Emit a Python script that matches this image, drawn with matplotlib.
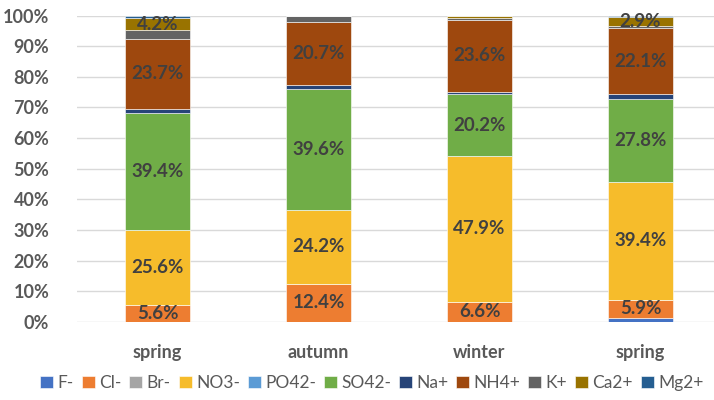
import matplotlib
matplotlib.use("Agg")
import matplotlib.pyplot as plt
import numpy as np

categories = ["spring", "autumn", "winter", "spring"]
series_names = ["F-", "Cl-", "Br-", "NO3-", "PO42-", "SO42-", "Na+", "NH4+", "K+", "Ca2+", "Mg2+"]
F = [0.0, 0.0, 0.0, 1.4]
Cl = [5.6, 12.4, 6.6, 5.9]
Br = [0.0, 0.0, 0.0, 0.0]
NO3 = [25.6, 24.2, 47.9, 39.4]
PO4 = [0.0, 0.0, 0.0, 0.0]
SO4 = [39.4, 39.6, 20.2, 27.8]
Na = [1.6, 1.3, 0.8, 1.6]
NH4 = [23.7, 20.7, 23.6, 22.1]
K = [2.8, 1.9, 0.8, 0.8]
Ca = [4.2, 0.0, 0.6, 2.9]
Mg = [0.8, 0.0, 0.0, 0.4]
colors = ["#4472C4", "#ED7D31", "#A5A5A5", "#F6BC2B", "#5B9BD5", "#70AD47",
          "#264478", "#9E480E", "#636363", "#997300", "#255E91"]
labelled = {"Cl-", "NO3-", "SO42-", "NH4+", "Ca2+"}
yticks = [0, 10, 20, 30, 40, 50, 60, 70, 80, 90, 100]

data = np.array([F, Cl, Br, NO3, PO4, SO4, Na, NH4, K, Ca, Mg])
totals = data.sum(axis=0)
norm = data / totals * 100.0

plt.rcParams['font.family'] = ['Lato', 'DejaVu Sans']
fig = plt.figure(figsize=(7.14, 4.0), dpi=100)
ax = fig.add_axes([77/714, (400-321.7)/400, 644/714, 306/400])

x = np.arange(len(categories))
bottom = np.zeros(len(categories))
for i, name in enumerate(series_names):
    ax.bar(x, norm[i], 0.4, bottom=bottom, color=colors[i], label=name,
           edgecolor='white', linewidth=0.4, zorder=3)
    if name in labelled:
        for j in range(len(categories)):
            if data[i, j] >= 2.5:
                ax.text(x[j], bottom[j] + norm[i, j] / 2, f"{data[i, j]:.1f}%",
                        ha='center', va='center', fontsize=13.5, fontweight='bold',
                        color='#404040', zorder=4)
    bottom += norm[i]

ax.set_xlim(-0.5, len(categories) - 0.5)
ax.set_ylim(0, 100)
ax.set_yticks(yticks)
ax.set_yticklabels([f"{v}%" for v in yticks])
ax.set_xticks(x)
ax.set_xticklabels(categories)
ax.grid(axis='y', color='#D9D9D9', linewidth=1, zorder=0)
for s in ax.spines.values():
    s.set_visible(False)
ax.tick_params(axis='both', length=0, labelsize=13, labelcolor='#595959')
ax.tick_params(axis='y', pad=20)
ax.tick_params(axis='x', pad=16)
for t in ax.get_xticklabels() + ax.get_yticklabels():
    t.set_fontweight('bold')

fig.legend(loc='center', bbox_to_anchor=(372/714, 1 - 383/400), ncol=11, frameon=False,
           fontsize=12.5, labelcolor='#595959', handlelength=0.75, handleheight=0.75,
           handletextpad=0.25, columnspacing=0.45, borderaxespad=0)

fig.savefig("out.png", dpi=100)
